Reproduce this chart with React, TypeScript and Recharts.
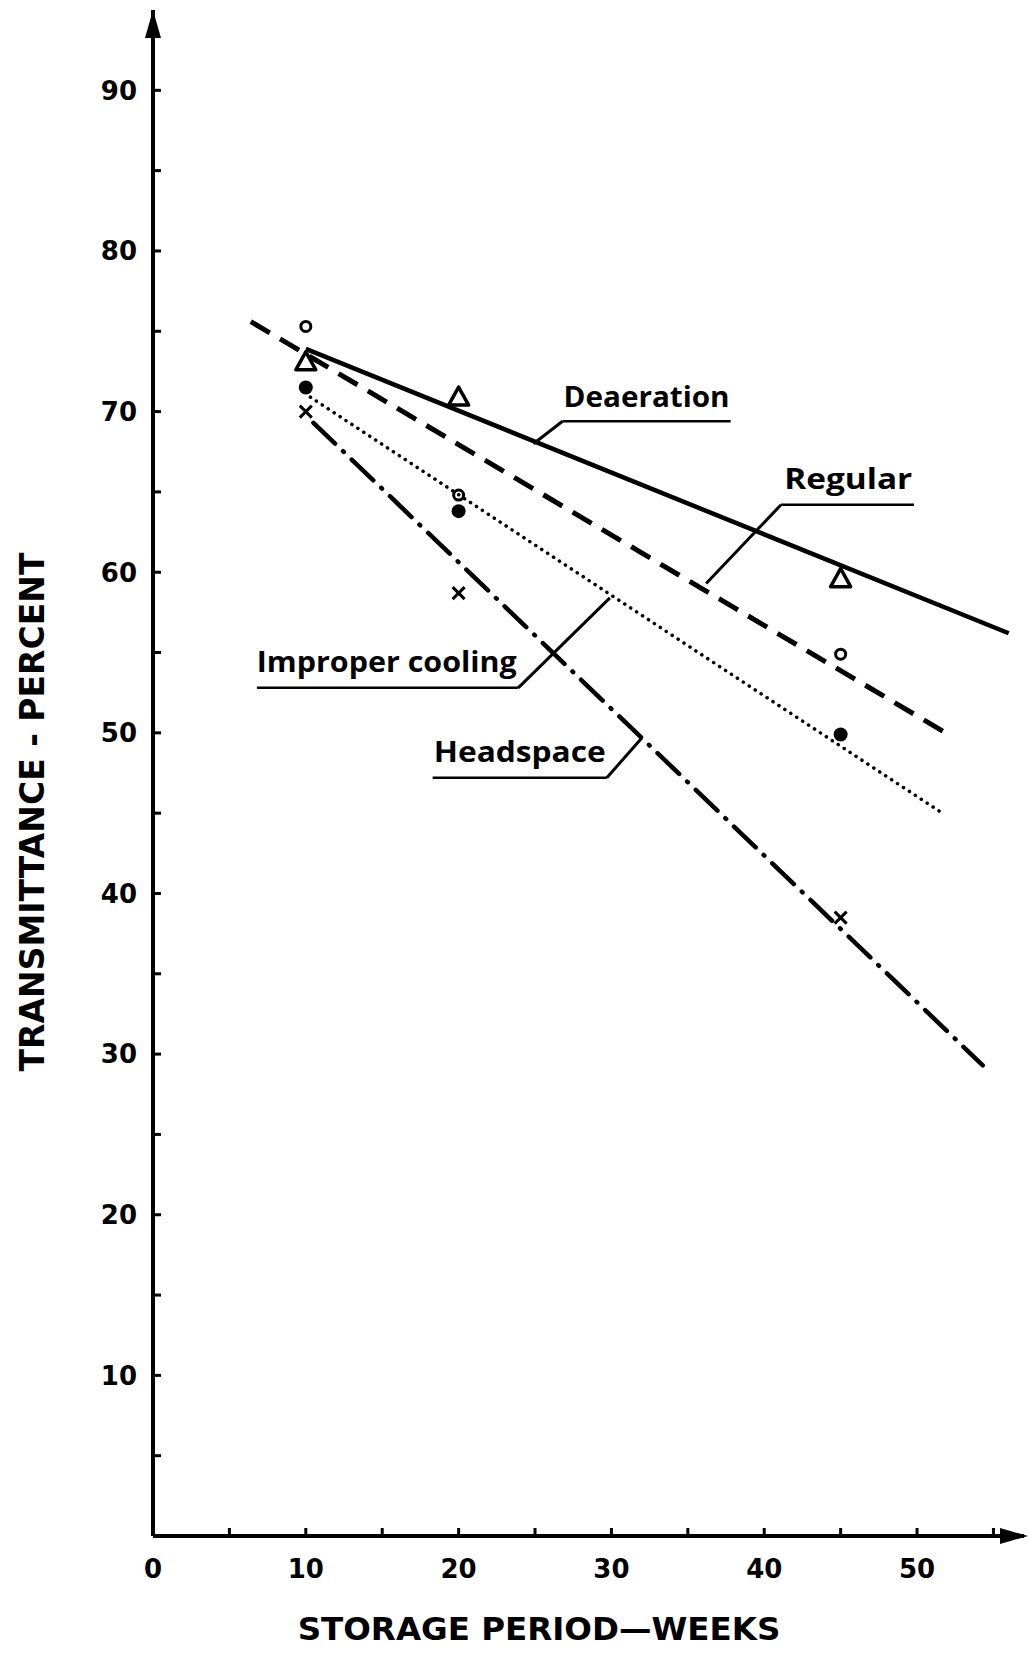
import React from "react";
import {
   ComposedChart,
   Line,
   Scatter,
   XAxis,
   YAxis,
   ReferenceLine,
   ReferenceDot,
} from "recharts";

// measured points (weeks of storage)
const weeks = [10, 20, 45];
const deaeration = [73.1, 70.9, 59.6];
const regular = [75.3, 64.8, 54.9];
const improperCooling = [71.5, 63.8, 49.9];
const headspace = [70.0, 58.7, 38.5];

// fitted lines, read as end points off the picture
const deaerationFitX = [10, 56];
const deaerationFitY = [73.9, 56.2];
const regularFitX = [6.4, 51.7];
const regularFitY = [75.6, 50.1];
const improperFitX = [10.3, 51.5];
const improperFitY = [70.9, 45.1];
const headspaceFitX = [10.5, 54.3];
const headspaceFitY = [69.3, 29.3];

const xTicks = [0, 5, 10, 15, 20, 25, 30, 35, 40, 45, 50, 55];
const yTicks = [0, 5, 10, 15, 20, 25, 30, 35, 40, 45, 50, 55, 60, 65, 70, 75, 80, 85, 90];

const toPoints = (xs: number[], ys: number[]) => xs.map((x, i) => ({ x, y: ys[i] }));

const FONT = "'DejaVu Sans', sans-serif";

const YTick = (props: any) => {
   const { x, y, payload } = props;
   const v = payload.value;
   if (v === 0 || v % 10 !== 0) return null;
   return (
      <text x={x} y={y} dy="0.36em" textAnchor="end" fontFamily={FONT} fontWeight="bold" fontSize={26} fill="#000">
         {v}
      </text>
   );
};

const XTick = (props: any) => {
   const { x, y, payload } = props;
   const v = payload.value;
   if (v % 10 !== 0 || v > 50) return null;
   return (
      <text x={x} y={y} dy="0.75em" textAnchor="middle" fontFamily={FONT} fontWeight="bold" fontSize={26} fill="#000">
         {v}
      </text>
   );
};

const OpenTriangle = (p: any) => (
   <path
      d={`M${p.cx},${p.cy - 10} L${p.cx + 10},${p.cy + 8} L${p.cx - 10},${p.cy + 8} Z`}
      fill="none"
      stroke="#000"
      strokeWidth={3.5}
      strokeLinejoin="round"
   />
);
const OpenCircle = (p: any) => <circle cx={p.cx} cy={p.cy} r={5} fill="none" stroke="#000" strokeWidth={3} />;
const FilledCircle = (p: any) => <circle cx={p.cx} cy={p.cy} r={7} fill="#000" />;
const Cross = (p: any) => (
   <path
      d={`M${p.cx - 6},${p.cy - 6} L${p.cx + 6},${p.cy + 6} M${p.cx + 6},${p.cy - 6} L${p.cx - 6},${p.cy + 6}`}
      stroke="#000"
      strokeWidth={3}
   />
);

const UpArrow = (p: any) => (
   <path d={`M${p.cx},${p.cy} L${p.cx + 8},${p.cy + 28} L${p.cx - 8},${p.cy + 28} Z`} fill="#000" />
);
const RightArrow = (p: any) => (
   <path d={`M${p.cx + 4},${p.cy} L${p.cx - 24},${p.cy - 8} L${p.cx - 24},${p.cy + 8} Z`} fill="#000" />
);

const noteText = (value: string, width: number) => (p: any) => (
   <text
      x={p.cx}
      y={p.cy}
      textAnchor="middle"
      fontFamily="'Open Sans', sans-serif"
      fontWeight="bold"
      fontSize={28}
      textLength={width}
      lengthAdjust="spacingAndGlyphs"
      fill="#000"
   >
      {value}
   </text>
);

// label notes: text centre, underline span, leader end
const notes = [
   { text: "Deaeration", width: 166, tx: 32.3, ty: 70.3, u1: 26.8, u2: 37.8, uy: 69.4, lx: 24.9, ly: 68.0 },
   { text: "Regular", width: 128, tx: 45.5, ty: 65.2, u1: 41.1, u2: 49.8, uy: 64.2, lx: 36.2, ly: 59.3 },
   { text: "Improper cooling", width: 260, tx: 15.3, ty: 53.8, u1: 6.8, u2: 23.9, uy: 52.8, lx: 29.9, ly: 58.4 },
   { text: "Headspace", width: 172, tx: 24.0, ty: 48.2, u1: 18.3, u2: 29.7, uy: 47.2, lx: 32.0, ly: 49.7 },
];

export default function App() {
   return (
      <div style={{ position: "absolute", left: 0, top: 0, background: "#fff" }}>
         <ComposedChart width={1028} height={1653} margin={{ top: 10, right: 4, bottom: 0, left: 0 }}>
            <XAxis
               type="number"
               dataKey="x"
               domain={[0, 57]}
               ticks={xTicks}
               tick={<XTick />}
               tickSize={-8}
               tickMargin={30}
               tickLine={{ stroke: "#000", strokeWidth: 3 }}
               axisLine={{ stroke: "#000", strokeWidth: 4 }}
               height={117}
               allowDataOverflow
               label={{
                  value: "STORAGE PERIOD\u2014WEEKS",
                  content: () => (
                     <text
                        x={539}
                        y={1640}
                        textAnchor="middle"
                        fontFamily={FONT}
                        fontWeight="bold"
                        fontSize={32.5}
                        fill="#000"
                     >
                        STORAGE PERIOD{"\u2014"}WEEKS
                     </text>
                  ),
               }}
            />
            <YAxis
               type="number"
               dataKey="y"
               domain={[0, 95]}
               ticks={yTicks}
               tick={<YTick />}
               tickSize={-8}
               tickMargin={24}
               tickLine={{ stroke: "#000", strokeWidth: 3 }}
               axisLine={{ stroke: "#000", strokeWidth: 4 }}
               width={153}
               allowDataOverflow
               label={{
                  value: "TRANSMITTANCE - PERCENT",
                  content: () => (
                     <text
                        x={44}
                        y={812}
                        transform="rotate(-90, 44, 812)"
                        textAnchor="middle"
                        fontFamily={FONT}
                        fontWeight="bold"
                        fontSize={33}
                        fill="#000"
                     >
                        TRANSMITTANCE - PERCENT
                     </text>
                  ),
               }}
            />

            <ReferenceDot x={0} y={95} r={0} ifOverflow="visible" shape={<UpArrow />} />
            <ReferenceDot x={57} y={0} r={0} ifOverflow="visible" shape={<RightArrow />} />

            <Line
               data={toPoints(deaerationFitX, deaerationFitY)}
               dataKey="y"
               stroke="#000"
               strokeWidth={4.5}
               dot={false}
               isAnimationActive={false}
            />
            <Line
               data={toPoints(regularFitX, regularFitY)}
               dataKey="y"
               stroke="#000"
               strokeWidth={5}
               strokeDasharray="22 12"
               dot={false}
               isAnimationActive={false}
            />
            <Line
               data={toPoints(improperFitX, improperFitY)}
               dataKey="y"
               stroke="#000"
               strokeWidth={3.5}
               strokeDasharray="0.1 7"
               strokeLinecap="round"
               dot={false}
               isAnimationActive={false}
            />
            <Line
               data={toPoints(headspaceFitX, headspaceFitY)}
               dataKey="y"
               stroke="#000"
               strokeWidth={4.5}
               strokeDasharray="30 11 1 11"
               strokeLinecap="round"
               dot={false}
               isAnimationActive={false}
            />

            <Scatter data={toPoints(weeks, deaeration)} dataKey="y" shape={<OpenTriangle />} isAnimationActive={false} />
            <Scatter data={toPoints(weeks, regular)} dataKey="y" shape={<OpenCircle />} isAnimationActive={false} />
            <Scatter data={toPoints(weeks, improperCooling)} dataKey="y" shape={<FilledCircle />} isAnimationActive={false} />
            <Scatter data={toPoints(weeks, headspace)} dataKey="y" shape={<Cross />} isAnimationActive={false} />

            {notes.map((n) => (
               <ReferenceLine
                  key={n.text + "-u"}
                  segment={[{ x: n.u1, y: n.uy }, { x: n.u2, y: n.uy }]}
                  stroke="#000"
                  strokeWidth={2.5}
                  ifOverflow="visible"
               />
            ))}
            {notes.map((n) => (
               <ReferenceLine
                  key={n.text + "-l"}
                  segment={[
                     { x: n.lx < n.u1 ? n.u1 : n.u2, y: n.uy },
                     { x: n.lx, y: n.ly },
                  ]}
                  stroke="#000"
                  strokeWidth={3}
                  ifOverflow="visible"
               />
            ))}
            {notes.map((n) => (
               <ReferenceDot key={n.text} x={n.tx} y={n.ty} r={0} ifOverflow="visible" shape={noteText(n.text, n.width)} />
            ))}
         </ComposedChart>
      </div>
   );
}
